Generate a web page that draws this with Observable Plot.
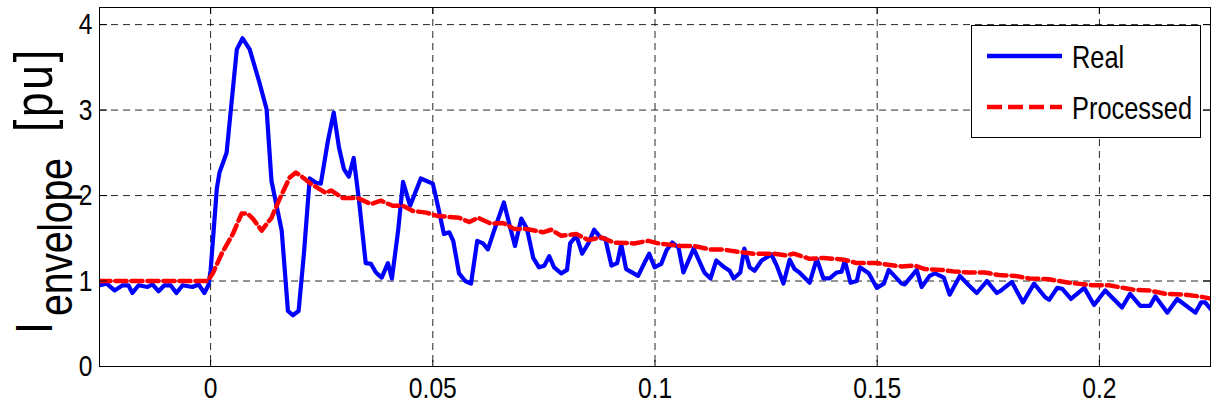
<!DOCTYPE html>
<html>
<head>
<meta charset="utf-8">
<script src="https://cdn.jsdelivr.net/npm/d3@7"></script>
<script src="https://cdn.jsdelivr.net/npm/@observablehq/plot@0.6"></script>
<style>
  html, body { margin: 0; padding: 0; background: #fff; }
  #chart svg { display: block; }
</style>
</head>
<body>
<div id="chart"></div>
<script>
// ---- data (time in s, current envelope in pu) ----
const realT = [-0.0250,-0.0234,-0.0216,-0.0198,-0.0185,-0.0176,-0.0162,-0.0142,-0.0131,-0.0117,-0.0104,-0.0090,-0.0077,-0.0063,-0.0041,-0.0027,-0.0014,-0.0005,0.0000,0.0014,0.0020,0.0036,0.0059,0.0072,0.0088,0.0110,0.0126,0.0137,0.0160,0.0174,0.0185,0.0198,0.0210,0.0223,0.0237,0.0248,0.0264,0.0277,0.0289,0.0300,0.0311,0.0322,0.0334,0.0349,0.0361,0.0372,0.0385,0.0399,0.0408,0.0422,0.0433,0.0449,0.0473,0.0500,0.0514,0.0525,0.0537,0.0546,0.0559,0.0573,0.0586,0.0600,0.0613,0.0624,0.0638,0.0660,0.0672,0.0685,0.0699,0.0712,0.0726,0.0739,0.0751,0.0762,0.0773,0.0789,0.0802,0.0809,0.0823,0.0836,0.0850,0.0863,0.0879,0.0888,0.0902,0.0915,0.0924,0.0935,0.0962,0.0976,0.0987,0.0999,0.1014,0.1026,0.1039,0.1053,0.1064,0.1087,0.1111,0.1125,0.1138,0.1156,0.1168,0.1177,0.1192,0.1201,0.1213,0.1224,0.1240,0.1262,0.1274,0.1289,0.1303,0.1314,0.1325,0.1348,0.1364,0.1379,0.1393,0.1409,0.1420,0.1427,0.1440,0.1454,0.1461,0.1481,0.1499,0.1515,0.1526,0.1555,0.1562,0.1589,0.1600,0.1618,0.1630,0.1650,0.1663,0.1686,0.1706,0.1724,0.1747,0.1769,0.1776,0.1803,0.1828,0.1853,0.1878,0.1887,0.1905,0.1916,0.1936,0.1966,0.1988,0.2013,0.2051,0.2069,0.2092,0.2114,0.2126,0.2153,0.2175,0.2216,0.2229,0.2238,0.2254];
const realV = [0.95,0.97,0.89,0.95,0.95,0.86,0.95,0.93,0.96,0.88,0.95,0.95,0.86,0.95,0.93,0.96,0.86,0.95,1.12,2.08,2.27,2.50,3.71,3.84,3.71,3.32,3.01,2.17,1.59,0.65,0.60,0.65,1.32,2.20,2.15,2.14,2.64,2.97,2.56,2.31,2.22,2.44,1.94,1.21,1.20,1.10,1.04,1.21,1.03,1.59,2.16,1.88,2.20,2.14,1.82,1.55,1.57,1.47,1.09,1.00,0.97,1.47,1.44,1.37,1.59,1.92,1.67,1.41,1.73,1.61,1.27,1.16,1.18,1.29,1.16,1.09,1.13,1.44,1.53,1.32,1.44,1.60,1.50,1.50,1.18,1.21,1.43,1.14,1.06,1.21,1.32,1.16,1.20,1.36,1.45,1.39,1.10,1.38,1.10,1.03,1.24,1.16,1.12,1.03,1.10,1.38,1.16,1.12,1.24,1.31,1.18,0.97,1.25,1.14,1.10,0.98,1.26,1.03,1.03,1.10,1.11,1.24,0.98,1.00,1.16,1.09,0.92,0.97,1.13,0.97,0.96,1.13,0.93,1.06,1.09,1.04,0.84,1.06,0.95,0.86,1.00,0.86,0.88,0.99,0.75,0.97,0.81,0.78,0.92,0.91,0.79,0.92,0.72,0.89,0.69,0.85,0.71,0.71,0.82,0.63,0.79,0.63,0.75,0.75,0.65];

const procT = [-0.0250,-0.0007,0.0005,0.0025,0.0050,0.0070,0.0083,0.0095,0.0115,0.0137,0.0156,0.0178,0.0192,0.0203,0.0225,0.0259,0.0271,0.0298,0.0331,0.0361,0.0383,0.0410,0.0433,0.0455,0.0485,0.0512,0.0559,0.0582,0.0602,0.0631,0.0658,0.0683,0.0710,0.0748,0.0766,0.0789,0.0823,0.0850,0.0879,0.0908,0.0953,0.0985,0.1008,0.1059,0.1087,0.1123,0.1150,0.1190,0.1222,0.1267,0.1296,0.1312,0.1348,0.1380,0.1425,0.1454,0.1499,0.1510,0.1555,0.1585,0.1607,0.1646,0.1675,0.1706,0.1742,0.1774,0.1810,0.1842,0.1887,0.1932,0.1984,0.2022,0.2074,0.2112,0.2148,0.2193,0.2225,0.2254];
const procV = [1.00,1.00,1.09,1.32,1.55,1.79,1.79,1.73,1.59,1.74,1.97,2.21,2.27,2.23,2.14,2.03,2.06,1.97,1.97,1.90,1.94,1.88,1.88,1.82,1.80,1.76,1.74,1.69,1.74,1.67,1.68,1.61,1.61,1.57,1.60,1.53,1.55,1.48,1.51,1.45,1.44,1.47,1.44,1.41,1.41,1.37,1.37,1.34,1.32,1.32,1.30,1.32,1.26,1.27,1.25,1.21,1.21,1.20,1.17,1.18,1.14,1.13,1.11,1.10,1.10,1.07,1.06,1.03,1.02,0.98,0.95,0.95,0.90,0.89,0.85,0.84,0.82,0.79];

const xTicks = [0, 0.05, 0.1, 0.15, 0.2];
const yTicks = [0, 1, 2, 3, 4];
const seriesNames = ["Real", "Processed"];
const seriesColors = ["#0000ff", "#ff0000"];

// ---- build tables ----
const real = realT.map((t, i) => ({t, v: realV[i]}));
const proc = procT.map((t, i) => ({t, v: procV[i]}));

const FONT = "'Liberation Sans', Arial, Helvetica, sans-serif";
const NARROW = 0.82; // horizontal compression to mimic a narrow Helvetica

const plot = Plot.plot({
  width: 1219,
  height: 409,
  marginLeft: 99,
  marginRight: 9,
  marginTop: 7,
  marginBottom: 43,
  style: {fontFamily: FONT, fontSize: "30px", color: "#000", background: "#fff"},
  x: {domain: [-0.025, 0.225], label: null},
  y: {domain: [0, 4.2], label: null},
  marks: [
    Plot.gridX(xTicks, {stroke: "#000", strokeOpacity: 0.85, strokeWidth: 1, strokeDasharray: "7,5"}),
    Plot.gridY(yTicks, {stroke: "#000", strokeOpacity: 0.85, strokeWidth: 1, strokeDasharray: "7,5"}),
    Plot.line(real, {x: "t", y: "v", stroke: seriesColors[0], strokeWidth: 4.2, clip: true}),
    Plot.line(proc, {x: "t", y: "v", stroke: seriesColors[1], strokeWidth: 4.5, strokeDasharray: "11,5", clip: true}),
    Plot.axisX(xTicks, {anchor: "bottom", tickSize: 0, tickPadding: 10, tickFormat: d => String(d), fontSize: 30}),
    Plot.axisY(yTicks, {anchor: "left", tickSize: 0, tickPadding: 7, tickFormat: d => String(d), fontSize: 30}),
    Plot.axisX(xTicks, {anchor: "bottom", tickSize: -6, tickFormat: () => ""}),
    Plot.axisX(xTicks, {anchor: "top", tickSize: -6, tickFormat: () => ""}),
    Plot.axisY(yTicks, {anchor: "left", tickSize: -8, tickFormat: () => ""}),
    Plot.axisY(yTicks, {anchor: "right", tickSize: -8, tickFormat: () => ""}),
    Plot.frame({stroke: "#000", strokeWidth: 1})
  ]
});

document.getElementById("chart").appendChild(plot);

const svg = d3.select(plot);

// compress tick label glyphs horizontally (narrow Helvetica look)
svg.selectAll("text").each(function () {
  if (!this.textContent) return;
  const len = this.getComputedTextLength();
  if (len > 0) {
    this.setAttribute("textLength", (len * NARROW).toFixed(2));
    this.setAttribute("lengthAdjust", "spacingAndGlyphs");
  }
});

// ---- y-axis label with subscript: I_envelope [pu] ----
function vtext(x, y, size, str, span) {
  const t = svg.append("text")
    .attr("transform", `translate(${x},${y}) rotate(-90) scale(${NARROW},1)`)
    .attr("text-anchor", "start")
    .attr("font-family", FONT)
    .attr("font-size", size)
    .attr("fill", "#000")
    .text(str);
  if (span) t.attr("textLength", span / NARROW).attr("lengthAdjust", "spacing");
  return t;
}
vtext(52, 334, 52, "I");
vtext(72, 316, 48, "envelope", 158);
vtext(52, 132, 54, "[pu]", 82);

// ---- legend ----
const lg = svg.append("g");
lg.append("rect").attr("x", 971.5).attr("y", 25.5).attr("width", 229).attr("height", 112)
  .attr("fill", "#fff").attr("stroke", "#000").attr("stroke-width", 1);
const rows = [56, 107];
seriesNames.forEach((name, i) => {
  lg.append("line").attr("x1", 987).attr("x2", 1062).attr("y1", rows[i]).attr("y2", rows[i])
    .attr("stroke", seriesColors[i]).attr("stroke-width", 4.5)
    .attr("stroke-dasharray", i === 1 ? "15,6" : null);
  lg.append("text")
    .attr("transform", `translate(1072,${rows[i] + 12}) scale(${NARROW},1)`)
    .attr("text-anchor", "start")
    .attr("font-family", FONT).attr("font-size", 31).attr("fill", "#000").text(name);
});
</script>
</body>
</html>
